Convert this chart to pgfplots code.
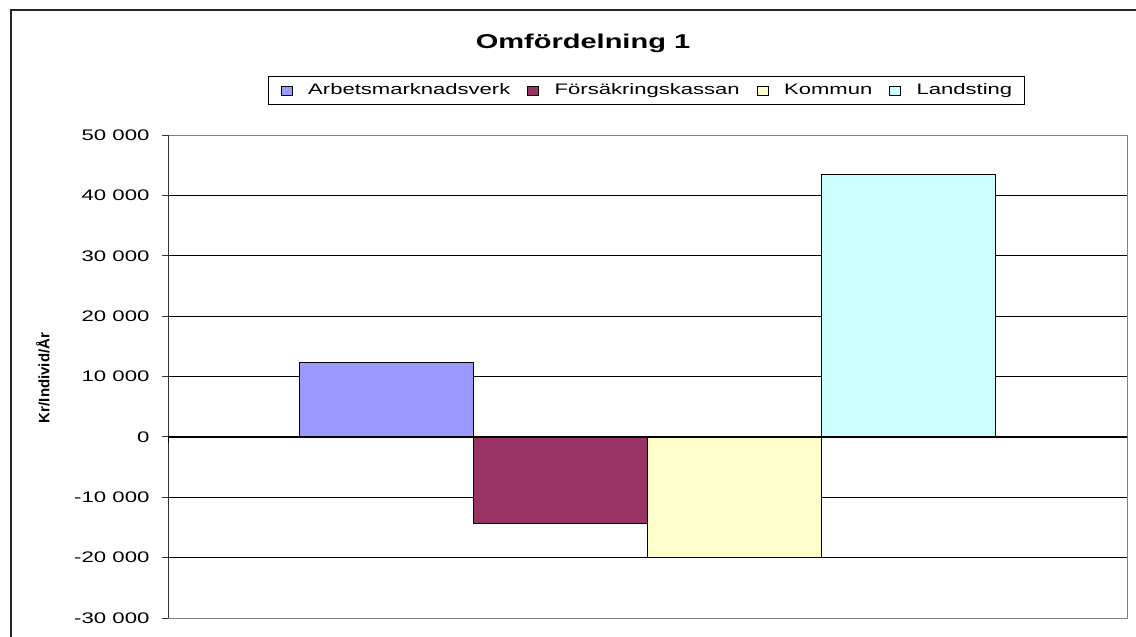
\documentclass[border=0pt]{standalone}
\usepackage{pgfplots}
\pgfplotsset{compat=1.18}
\usepackage{fontspec}
\setmainfont{Liberation Sans}[FakeStretch=1.45]
\newfontfamily\ylabfont{Liberation Sans}
\definecolor{cA}{HTML}{9999FF}
\definecolor{cB}{HTML}{993366}
\definecolor{cC}{HTML}{FFFFCC}
\definecolor{cD}{HTML}{CCFFFF}
\definecolor{frame}{HTML}{808080}
\begin{document}
\begin{tikzpicture}
\useasboundingbox (0,0) rectangle (1136bp,637bp);
\fill[white] (0,0) rectangle (1136bp,637bp);
\draw[black!85, line width=1.2bp] (11bp,-20bp) rectangle (1170bp,627bp);
\node[anchor=base, font=\bfseries\fontsize{20bp}{24bp}\selectfont] at (583bp,588bp) {Omfördelning 1};
\node[rotate=90, anchor=center, font=\ylabfont\bfseries\fontsize{15bp}{18bp}\selectfont] at (43bp,259bp) {Kr/Individ/År};
\begin{axis}[
  at={(168bp,19bp)}, anchor=south west,
  scale only axis, width=959bp, height=483bp,
  xmin=0, xmax=2, ymin=-30000, ymax=50000,
  ybar=0pt, bar width=174bp,
  xtick=\empty,
  scaled y ticks=false,
  ytick={-30000,-20000,...,50000},
  yticklabels={-30 000,-20 000,-10 000,0,10 000,20 000,30 000,40 000,50 000},
  ytick pos=left, tick align=outside, major tick length=6bp,
  ytick style={black!80, line width=0.8bp},
  yticklabel style={font=\fontsize{15.3bp}{18bp}\selectfont, anchor=east, xshift=-9bp},
  ymajorgrids, grid style={black, line width=0.8bp},
  axis line style={draw=frame, line width=0.8bp},
  legend columns=4,
  legend image code/.code={\draw[#1, draw=black, line width=0.8bp] (0bp,-4.5bp) rectangle (11bp,4.5bp); \path[draw=none, fill=none] (0bp,0bp) -- (27bp,0bp);},
  legend style={at={(0.499,1.092)}, anchor=center, draw=black, line width=0.9bp,
    font=\fontsize{15.2bp}{18bp}\selectfont,
    inner xsep=12bp, inner ysep=7bp,
    nodes={inner xsep=0bp, inner ysep=0bp, text height=11bp, text depth=3.5bp},
    /tikz/every even column/.append style={column sep=17bp}},
]
\addplot[fill=cA, draw=black, line width=0.8bp] coordinates {(1,12400)};
\addlegendentry{Arbetsmarknadsverk}
\addplot[fill=cB, draw=black, line width=0.8bp] coordinates {(1,-14300)};
\addlegendentry{Försäkringskassan}
\addplot[fill=cC, draw=black, line width=0.8bp] coordinates {(1,-19900)};
\addlegendentry{Kommun}
\addplot[fill=cD, draw=black, line width=0.8bp] coordinates {(1,43400)};
\addlegendentry{Landsting}
\draw[frame, line width=0.9bp] (rel axis cs:0,1) -- (rel axis cs:1,1) -- (rel axis cs:1,0) -- (rel axis cs:0,0);
\draw[black!80, line width=1bp] (rel axis cs:0,0) -- (rel axis cs:0,1);
\draw[black, line width=2.2bp] ([xshift=-2bp]axis cs:0,0) -- ([xshift=3bp]axis cs:2,0);
\draw[black, line width=2.2bp] (axis cs:0,0) -- ([yshift=-6bp]axis cs:0,0);
\draw[black, line width=2.2bp] ([xshift=2bp]axis cs:2,0) -- ([xshift=2bp,yshift=-6bp]axis cs:2,0);
\end{axis}
\end{tikzpicture}
\end{document}
